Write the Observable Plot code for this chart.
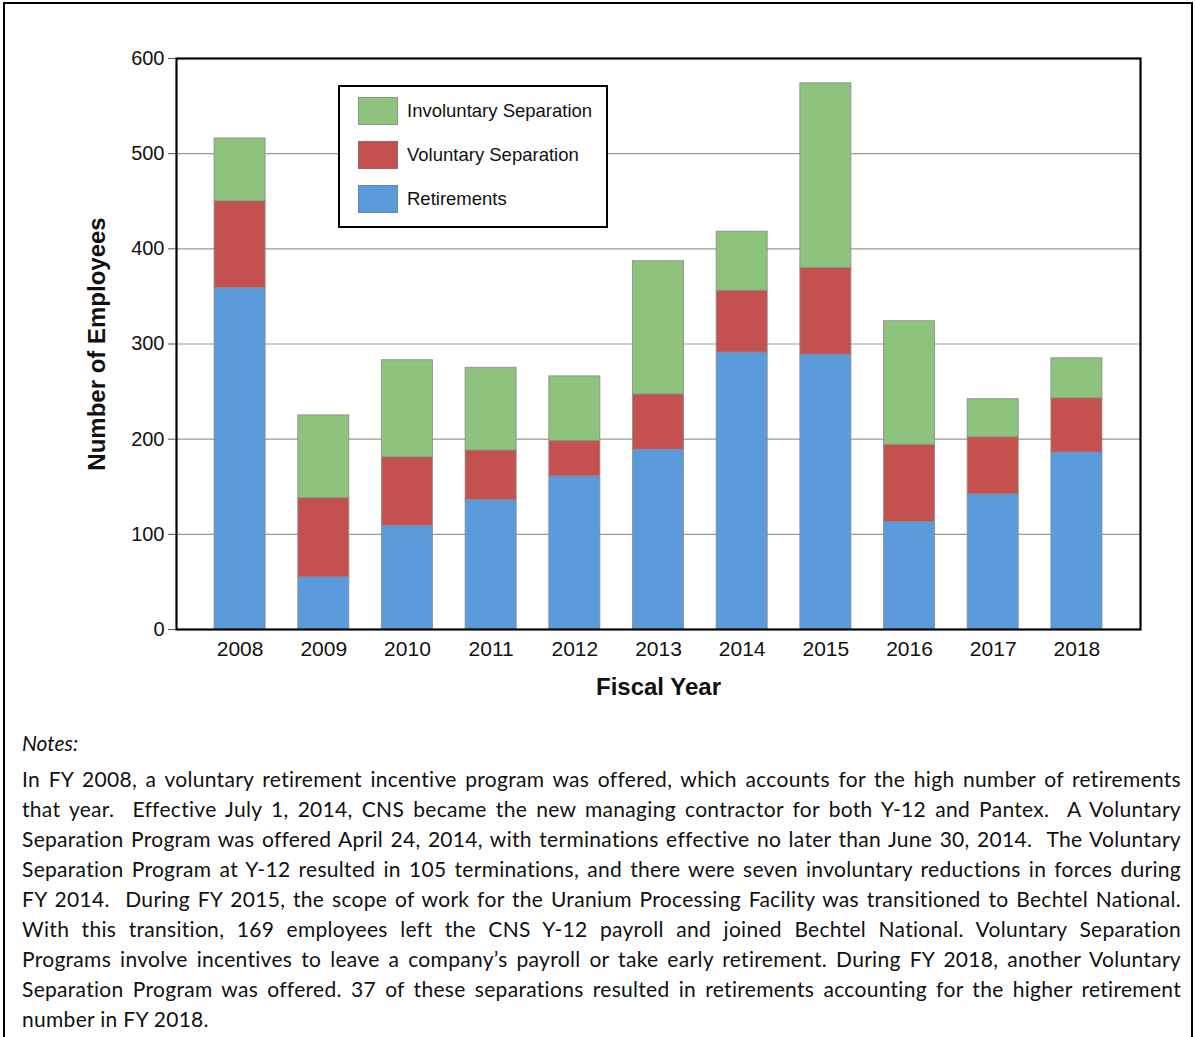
<!DOCTYPE html>
<html>
<head>
<meta charset="utf-8">
<script src="https://cdn.jsdelivr.net/npm/d3@7"></script>
<script src="https://cdn.jsdelivr.net/npm/@observablehq/plot@0.6"></script>
<style>
  html, body { margin: 0; padding: 0; background: #fff; }
  body { width: 1195px; height: 1037px; position: relative; overflow: hidden; font-family: "Liberation Sans", Arial, sans-serif; }
  #frame { position: absolute; left: 3px; top: 2px; width: 1186px; height: 1060px; border: 2px solid #000; box-sizing: content-box; }
  #chart { position: absolute; left: 0; top: 0; }
  #legend { position: absolute; left: 338px; top: 85px; width: 266px; height: 139px; border: 2px solid #000; background: #fff; }
  .sw { position: absolute; left: 18px; width: 40px; height: 28px; box-sizing: border-box; border: 1px solid rgba(120,120,120,0.5); }
  .lt { position: absolute; left: 67px; font-size: 18.5px; color: #111; line-height: 22px; }
  #notes { position: absolute; left: 22px; top: 730px; width: 1159px; font-family: Lato, "Open Sans", sans-serif; font-size: 21px; letter-spacing: 0.3px; color: #111; }
  #notes .title { font-style: italic; margin-bottom: 8px; line-height: 26px; letter-spacing: 0; }
  #notes .ln { line-height: 30px; text-align: justify; text-align-last: justify; white-space: pre-wrap; }
  #notes .ln.last { text-align-last: left; }
</style>
</head>
<body>
<div id="frame"></div>
<div id="chart"></div>
<div id="legend"></div>
<div id="notes"></div>
<script>
const years = ["2008","2009","2010","2011","2012","2013","2014","2015","2016","2017","2018"];
const retirements = [359, 55, 109, 136, 161, 189, 291, 289, 113, 142, 186];
const voluntary   = [ 91, 83,  72,  52,  37,  58,  65,  91,  81,  60,  57];
const involuntary = [ 66, 87, 102,  87,  68, 140,  62, 194, 130,  40,  42];
const seriesNames = ["Retirements", "Voluntary Separation", "Involuntary Separation"];
const seriesColors = ["#5b9bdc", "#c4514f", "#8dc37c"];
const legendOrder = ["Involuntary Separation", "Voluntary Separation", "Retirements"];
const yTicks = [0, 100, 200, 300, 400, 500, 600];
const noteLines = [
  "In FY 2008, a voluntary retirement incentive program was offered, which accounts for the high number of retirements",
  "that year.  Effective July 1, 2014, CNS became the new managing contractor for both Y-12 and Pantex.  A Voluntary",
  "Separation Program was offered April 24, 2014, with terminations effective no later than June 30, 2014.  The Voluntary",
  "Separation Program at Y-12 resulted in 105 terminations, and there were seven involuntary reductions in forces during",
  "FY 2014.  During FY 2015, the scope of work for the Uranium Processing Facility was transitioned to Bechtel National.",
  "With this transition, 169 employees left the CNS Y-12 payroll and joined Bechtel National. Voluntary Separation",
  "Programs involve incentives to leave a company\u2019s payroll or take early retirement. During FY 2018, another Voluntary",
  "Separation Program was offered. 37 of these separations resulted in retirements accounting for the higher retirement",
  "number in FY 2018."
];

const seriesValues = [retirements, voluntary, involuntary];
const data = [];
seriesNames.forEach((s, si) => {
  years.forEach((y, i) => data.push({year: y, series: s, value: seriesValues[si][i]}));
});

const plot = Plot.plot({
  width: 1195,
  height: 710,
  marginLeft: 176,
  marginRight: 55,
  marginTop: 58,
  marginBottom: 81,
  style: {fontFamily: "'Liberation Sans', Arial, sans-serif", background: "transparent"},
  x: {domain: years, paddingInner: 0.39, paddingOuter: 0.455, round: false, label: null},
  y: {domain: [0, 600], label: null},
  color: {domain: seriesNames, range: seriesColors},
  marks: [
    Plot.gridY(yTicks.slice(1, -1), {stroke: "#999", strokeOpacity: 1, strokeWidth: 1.2}),
    Plot.barY(data, {x: "year", y: "value", fill: "series", order: seriesNames, stroke: "#8a8a8a", strokeWidth: 1, strokeOpacity: 0.8, inset: 0}),
    Plot.frame({stroke: "#000", strokeWidth: 2.2}),
    Plot.axisY(yTicks, {tickSize: 8, tickPadding: 4, fontSize: 20, stroke: "#555", fill: "#111", label: null}),
    Plot.axisX({tickSize: 0, tickPadding: 12, fontSize: 21, fill: "#111", label: null}),
    Plot.text(["Fiscal Year"], {frameAnchor: "bottom", dy: 65, fontSize: 24, fontWeight: "bold", fill: "#111"}),
    Plot.text(["Number of Employees"], {frameAnchor: "left", textAnchor: "middle", rotate: -90, dx: -79, fontSize: 24, fontWeight: "bold", fill: "#111"})
  ]
});
document.getElementById("chart").appendChild(plot);

// Legend
const legend = document.getElementById("legend");
const colorOf = s => seriesColors[seriesNames.indexOf(s)];
legendOrder.forEach((s, i) => {
  const sw = document.createElement("div");
  sw.className = "sw";
  sw.style.top = (10 + i * 44) + "px";
  sw.style.background = colorOf(s);
  legend.appendChild(sw);
  const t = document.createElement("div");
  t.className = "lt";
  t.style.top = (13 + i * 44) + "px";
  t.textContent = s;
  legend.appendChild(t);
});

// Notes
const notes = document.getElementById("notes");
const title = document.createElement("div");
title.className = "title";
title.textContent = "Notes:";
notes.appendChild(title);
noteLines.forEach((l, i) => {
  const d = document.createElement("div");
  d.className = "ln" + (i === noteLines.length - 1 ? " last" : "");
  d.textContent = l;
  notes.appendChild(d);
});
</script>
</body>
</html>
